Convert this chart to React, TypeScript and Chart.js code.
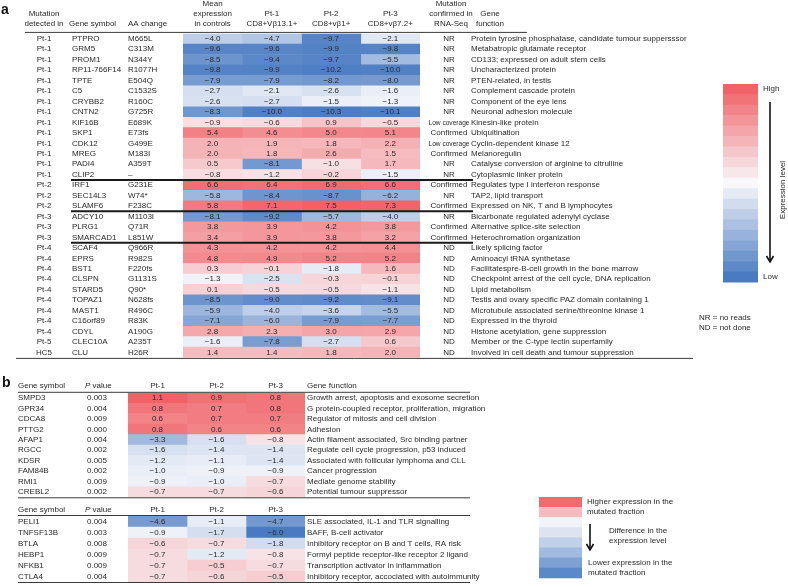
import React, { useEffect, useRef } from 'react';
import { Chart, registerables } from 'chart.js';
Chart.register(...registerables);

const W = 788, H = 587;
const FONT = '"Liberation Sans", Arial, sans-serif';
const TXT = '#2a2a2a';

// ---------- Panel a data ----------
const detectedIn = ['Pt-1','Pt-1','Pt-1','Pt-1','Pt-1','Pt-1','Pt-1','Pt-1','Pt-1','Pt-1','Pt-1','Pt-1','Pt-1','Pt-1','Pt-2','Pt-2','Pt-2','Pt-3','Pt-3','Pt-3','Pt-4','Pt-4','Pt-4','Pt-4','Pt-4','Pt-4','Pt-4','Pt-4','Pt-4','Pt-5','HC5'];
const geneA = ['PTPRO','GRM5','PROM1','RP11-766F14','TPTE','C5','CRYBB2','CNTN2','KIF16B','SKP1','CDK12','MREG','PADI4','CLIP2','IRF1','SEC14L3','SLAMF6','ADCY10','PLRG1','SMARCAD1','SCAF4','EPRS','BST1','CLSPN','STARD5','TOPAZ1','MAST1','C16orf89','CDYL','CLEC10A','CLU'];
const aaChange = ['M665L','C313M','N344Y','R1077H','E504Q','C1532S','R160C','G725R','E689K','E73fs','G499E','M183I','A359T','–','G231E','W74*','F238C','M1103I','Q71R','L851W','Q966R','R982S','F220fs','G1131S','Q90*','N628fs','R496C','R83K','A190G','A235T','H26R'];
const meanCtrl = [-4.0,-9.6,-8.5,-9.8,-7.9,-2.7,-2.6,-8.3,-0.9,5.4,2.0,2.0,0.5,-0.8,6.6,-5.8,5.8,-8.1,3.8,3.4,4.3,4.8,0.3,-1.3,0.1,-8.5,-5.9,-7.1,2.8,-1.6,1.4];
const pt1A = [-4.7,-9.6,-9.4,-9.9,-7.9,-2.1,-2.7,-10.0,-0.6,4.6,1.9,1.8,-8.1,-1.2,6.4,-8.4,7.1,-9.2,3.9,3.9,4.2,4.9,-0.1,-2.5,-0.5,-9.0,-4.0,-6.0,2.3,-7.8,1.4];
const pt2A = [-9.7,-9.9,-9.7,-10.2,-8.2,-2.6,-1.5,-10.3,0.9,5.0,1.8,2.6,-1.0,-0.2,6.9,-8.7,7.5,-5.7,4.2,3.8,4.2,5.2,-1.8,-0.3,-0.5,-9.2,-3.6,-7.9,3.0,-2.7,1.8];
const pt3A = [-2.1,-9.8,-5.5,-10.0,-8.0,-1.6,-1.3,-10.1,-0.5,5.1,2.2,1.5,1.7,-1.5,6.6,-6.2,7.3,-4.0,3.8,3.2,4.4,5.2,1.6,-0.1,-1.1,-9.1,-5.5,-7.7,2.9,0.6,2.0];
const rnaSeq = ['NR','NR','NR','NR','NR','NR','NR','NR','Low coverage','Confirmed','Low coverage','Confirmed','NR','NR','Confirmed','NR','Confirmed','NR','Confirmed','Confirmed','ND','ND','ND','ND','ND','ND','ND','ND','ND','ND','ND'];
const functionA = [
  'Protein tyrosine phosphatase, candidate tumour suppersssor',
  'Metabatropic glutamate receptor',
  'CD133; expressed on adult stem cells',
  'Uncharacterized protein',
  'PTEN-related, in testis',
  'Complement cascade protein',
  'Component of the eye lens',
  'Neuronal adhesion molecule',
  'Kinesin-like protein',
  'Ubiquitination',
  'Cyclin-dependent kinase 12',
  'Melanoregulin',
  'Catalyse conversion of arginine to citrulline',
  'Cytoplasmic linker protein',
  'Regulates type I interferon response',
  'TAP2, lipid transport',
  'Expressed on NK, T and B lymphocytes',
  'Bicarbonate regulated adenylyl cyclase',
  'Alternative splice-site selection',
  'Heterochromation organization',
  'Likely splicing factor',
  'Aminoacyl tRNA synthetase',
  'Facilitatespre-B-cell growth in the bone marrow',
  'Checkpoint arrest of the cell cycle, DNA replication',
  'Lipid metabolism',
  'Testis and ovary specific PAZ domain containing 1',
  'Microtubule associated serine/threonine kinase 1',
  'Expressed in the thyroid',
  'Histone acetylation, gene suppression',
  'Member or the C-type lectin superfamily',
  'Involved in cell death and tumour suppression',
];
const colHeadersA = [['Mean', 'expression', 'in controls'], ['Pt-1', 'CD8+Vβ13.1+'], ['Pt-2', 'CD8+vβ1+'], ['Pt-3', 'CD8+vβ7.2+']];
const groupBreaksA = [14, 17, 20];

// ---------- Panel b data ----------
const geneB1 = ['SMPD3','GPR34','CDCA8','PTTG2','AFAP1','RGCC','KDSR','FAM84B','RMI1','CREBL2'];
const pB1 = ['0.003','0.004','0.009','0.000','0.004','0.002','0.005','0.002','0.009','0.002'];
const b1Pt1 = [1.1,0.8,0.6,0.8,-3.3,-1.6,-1.2,-1.0,-0.9,-0.7];
const b1Pt2 = [0.9,0.7,0.7,0.6,-1.6,-1.4,-1.1,-0.9,-1.0,-0.7];
const b1Pt3 = [0.8,0.8,0.7,0.6,-0.8,-1.4,-1.4,-0.9,-0.7,-0.6];
const funcB1 = [
  'Growth arrest, apoptosis and exosome secretion',
  'G protein-coupled receptor, proliferation, migration',
  'Regulator of mitosis and cell division',
  'Adhesion',
  'Actin filament associated, Src binding partner',
  'Regulate cell cycle progression, p53 induced',
  'Associated with follicular lymphoma and CLL',
  'Cancer progression',
  'Mediate genome stability',
  'Potential tumour suppressor',
];
const geneB2 = ['PELI1','TNFSF13B','BTLA','HEBP1','NFKB1','CTLA4'];
const pB2 = ['0.004','0.003','0.008','0.009','0.009','0.004'];
const b2Pt1 = [-4.6,-0.9,-0.6,-0.7,-0.7,-0.7];
const b2Pt2 = [-1.1,-1.7,-0.7,-1.2,-0.5,-0.6];
const b2Pt3 = [-4.7,-6.0,-1.8,-0.8,-0.7,-0.5];
const funcB2 = [
  'SLE associated, IL-1 and TLR signalling',
  'BAFF, B-cell activator',
  'Inhibitory receptor on B and T cells, RA risk',
  'Formyl peptide receptor-like receptor 2 ligand',
  'Transcription activator in inflammation',
  'Inhibitory receptor, accociated with autoimmunity',
];
const colHeadersB = ['Pt-1', 'Pt-2', 'Pt-3'];

// ---------- colours ----------
const WHITE = [248, 248, 251];
const RED = [240, 98, 103];
const BLUE = [74, 123, 194];
function mix(a: number[], b: number[], t: number) {
  const k = Math.max(0, Math.min(1, t));
  return `rgb(${a.map((v, i) => Math.round(v + (b[i] - v) * k)).join(',')})`;
}
function makeColor(mid: number, hi: number, lo: number, minR: number, minB: number) {
  return (v: number) => {
    if (v >= mid) return mix(WHITE, RED, minR + (1 - minR) * (v - mid) / (hi - mid));
    return mix(WHITE, BLUE, minB + (1 - minB) * (mid - v) / (mid - lo));
  };
}
const colorA = makeColor(-1.2, 7.5, -10.4, 0.14, 0.04);
const colorB = makeColor(-0.85, 1.1, -6.0, 0.12, 0.05);

function fmt(v: number) { return (v < 0 ? '−' : '') + Math.abs(v).toFixed(1); }

function txt(ctx: any, s: string, x: number, y: number, align = 'left', font = `8px ${FONT}`, color = TXT, maxW?: number) {
  ctx.save();
  ctx.font = font; ctx.fillStyle = color; ctx.textAlign = align; ctx.textBaseline = 'middle';
  if (maxW) ctx.fillText(s, x, y, maxW); else ctx.fillText(s, x, y);
  ctx.restore();
}
function hline(ctx: any, x0: number, x1: number, y: number, w = 1, color = '#3a3a3a') {
  ctx.save(); ctx.strokeStyle = color; ctx.lineWidth = w;
  ctx.beginPath(); ctx.moveTo(x0, y); ctx.lineTo(x1, y); ctx.stroke(); ctx.restore();
}
function arrowDown(ctx: any, x: number, y0: number, y1: number) {
  ctx.save(); ctx.strokeStyle = '#111'; ctx.lineWidth = 1.6;
  ctx.beginPath(); ctx.moveTo(x, y0); ctx.lineTo(x, y1); ctx.stroke();
  ctx.beginPath(); ctx.moveTo(x - 3.5, y1 - 6); ctx.lineTo(x, y1); ctx.lineTo(x + 3.5, y1 - 6); ctx.stroke();
  ctx.restore();
}
function pValueHeader(ctx: any, x: number, y: number) {
  ctx.save(); ctx.font = `italic 8px ${FONT}`; const w = ctx.measureText('P').width; ctx.restore();
  txt(ctx, 'P', x, y, 'left', `italic 8px ${FONT}`);
  txt(ctx, ' value', x + w, y);
}

const panelAPlugin = {
  id: 'panelA',
  afterDatasetsDraw(chart: any) {
    const { ctx, chartArea } = chart;
    const x = chart.scales.x, y = chart.scales.y;
    const cols = [meanCtrl, pt1A, pt2A, pt3A];
    cols.forEach((vals, c) => vals.forEach((v, r) => txt(ctx, fmt(v), x.getPixelForValue(c + 0.5), y.getPixelForValue(r), 'center')));
    geneA.forEach((g, r) => {
      const yy = y.getPixelForValue(r);
      txt(ctx, detectedIn[r], 44, yy, 'center');
      txt(ctx, g, 72, yy);
      txt(ctx, aaChange[r], 128, yy);
      txt(ctx, rnaSeq[r], 449, yy, 'center', `8px ${FONT}`, TXT, 41);
      txt(ctx, functionA[r], 471, yy);
    });
    // panel label and headers
    txt(ctx, 'a', 1, 10, 'left', `bold 14px ${FONT}`, '#111');
    txt(ctx, 'Mutation', 44, 14, 'center');
    txt(ctx, 'detected in', 44, 24, 'center');
    txt(ctx, 'Gene symbol', 69, 24);
    txt(ctx, 'AA change', 128, 24);
    colHeadersA.forEach((lines, c) => {
      const cx = x.getPixelForValue(c + 0.5);
      lines.forEach((s, i) => txt(ctx, s, cx, 24 - (lines.length - 1 - i) * 10, 'center'));
    });
    ['Mutation', 'confirmed in', 'RNA-Seq'].forEach((s, i) => txt(ctx, s, 451, 4 + i * 10, 'center'));
    txt(ctx, 'Gene', 490, 14, 'center');
    txt(ctx, 'function', 490, 24, 'center');
    // rules
    hline(ctx, 25, 527, chartArea.top - 1.2, 1);
    groupBreaksA.forEach(b => {
      const yy = (y.getPixelForValue(b - 1) + y.getPixelForValue(b)) / 2;
      hline(ctx, 71, 473, yy, 2, '#1a1a1a');
    });
    hline(ctx, 16, 693, chartArea.bottom + 0.8, 1);
    // colour legend a
    const lx = 723, lw = 35, top = 84, bot = 282, n = 19;
    const sh = (bot - top) / n;
    for (let k = 0; k < n; k++) {
      let c;
      if (k < 9) c = mix(WHITE, RED, (9 - k) / 9);
      else if (k === 9) c = mix(WHITE, WHITE, 0);
      else c = mix(WHITE, BLUE, (k - 9) / 9);
      ctx.fillStyle = c;
      ctx.fillRect(lx, top + k * sh, lw, sh + 0.5);
    }
    txt(ctx, 'High', 763, 89);
    txt(ctx, 'Low', 763, 277);
    arrowDown(ctx, 770, 102, 262);
    ctx.save();
    ctx.translate(783, 190); ctx.rotate(-Math.PI / 2);
    txt(ctx, 'Expression level', 0, 0, 'center');
    ctx.restore();
    txt(ctx, 'NR = no reads', 699, 318);
    txt(ctx, 'ND = not done', 699, 328);
  },
};

function makePanelBPlugin(id: string, genes: string[], pvals: string[], cols: number[][], funcs: string[], headerY: number, withFunc: boolean, first: boolean) {
  return {
    id,
    afterDatasetsDraw(chart: any) {
      const { ctx, chartArea } = chart;
      const x = chart.scales.x, y = chart.scales.y;
      cols.forEach((vals, c) => vals.forEach((v, r) => txt(ctx, fmt(v), x.getPixelForValue(c + 0.5), y.getPixelForValue(r), 'center')));
      genes.forEach((g, r) => {
        const yy = y.getPixelForValue(r);
        txt(ctx, g, 18, yy);
        txt(ctx, pvals[r], 97, yy, 'center');
        txt(ctx, funcs[r], 307, yy);
      });
      txt(ctx, 'Gene symbol', 18, headerY);
      pValueHeader(ctx, 85, headerY);
      colHeadersB.forEach((s, c) => txt(ctx, s, x.getPixelForValue(c + 0.5), headerY, 'center'));
      if (withFunc) txt(ctx, 'Gene function', 307, headerY);
      hline(ctx, 18, 470, chartArea.top - 0.5, 1);
      hline(ctx, 18, 470, chartArea.bottom + 0.5, 1);
      if (first) {
        txt(ctx, 'b', 2, 383, 'left', `bold 14px ${FONT}`, '#111');
      } else {
        // colour legend b
        const lx = 539, lw = 43, top = 497, sh = 10.1;
        const shades = [mix(WHITE, RED, 0.95), mix(WHITE, RED, 0.4), mix(WHITE, BLUE, 0.03),
          mix(WHITE, BLUE, 0.16), mix(WHITE, BLUE, 0.32), mix(WHITE, BLUE, 0.5), mix(WHITE, BLUE, 0.7), mix(WHITE, BLUE, 0.9)];
        shades.forEach((c, k) => { ctx.fillStyle = c; ctx.fillRect(lx, top + k * sh, lw, sh + 0.5); });
        txt(ctx, 'Higher expression in the', 587, 502);
        txt(ctx, 'mutated fraction', 587, 512);
        txt(ctx, 'Difference in the', 609, 531);
        txt(ctx, 'expression level', 609, 541);
        txt(ctx, 'Lower expression in the', 588, 563);
        txt(ctx, 'mutated fraction', 588, 573);
        arrowDown(ctx, 590, 524, 550);
      }
    },
  };
}

function makeHeatmap(canvas: HTMLCanvasElement, labels: string[], cols: number[][], colorFn: (v: number) => string, pad: any, plugin: any) {
  return new Chart(canvas, {
    type: 'bar',
    data: {
      labels,
      datasets: cols.map((vals, c) => ({
        data: vals.map(() => [c, c + 1]) as any,
        backgroundColor: vals.map(colorFn),
        borderWidth: 0,
        grouped: false,
        barPercentage: 1,
        categoryPercentage: 1,
      })),
    },
    options: {
      indexAxis: 'y',
      responsive: false,
      maintainAspectRatio: false,
      animation: false,
      devicePixelRatio: 1,
      events: [],
      layout: { padding: pad },
      scales: {
        x: { type: 'linear', min: 0, max: cols.length, display: false },
        y: { type: 'category', display: false, offset: true },
      },
      plugins: { legend: { display: false }, tooltip: { enabled: false } },
    } as any,
    plugins: [plugin],
  });
}

export default function App() {
  const refA = useRef<HTMLCanvasElement>(null);
  const refB1 = useRef<HTMLCanvasElement>(null);
  const refB2 = useRef<HTMLCanvasElement>(null);
  useEffect(() => {
    const charts = [
      makeHeatmap(refA.current!, geneA, [meanCtrl, pt1A, pt2A, pt3A], colorA,
        { left: 183, right: W - 420, top: 33.6, bottom: H - 357.6 }, panelAPlugin),
      makeHeatmap(refB1.current!, geneB1, [b1Pt1, b1Pt2, b1Pt3], colorB,
        { left: 128, right: W - 305, top: 392.8, bottom: H - 497.3 },
        makePanelBPlugin('panelB1', geneB1, pB1, [b1Pt1, b1Pt2, b1Pt3], funcB1, 386, true, true)),
      makeHeatmap(refB2.current!, geneB2, [b2Pt1, b2Pt2, b2Pt3], colorB,
        { left: 128, right: W - 305, top: 516, bottom: H - 582 },
        makePanelBPlugin('panelB2', geneB2, pB2, [b2Pt1, b2Pt2, b2Pt3], funcB2, 510, false, false)),
    ];
    return () => charts.forEach(c => c.destroy());
  }, []);
  const st: React.CSSProperties = { position: 'absolute', left: 0, top: 0, width: W, height: H };
  return (
    <div style={{ position: 'absolute', left: 0, top: 0, width: W, height: H, background: '#fff', overflow: 'hidden' }}>
      <canvas ref={refA} width={W} height={H} style={st} />
      <canvas ref={refB1} width={W} height={H} style={st} />
      <canvas ref={refB2} width={W} height={H} style={st} />
    </div>
  );
}
